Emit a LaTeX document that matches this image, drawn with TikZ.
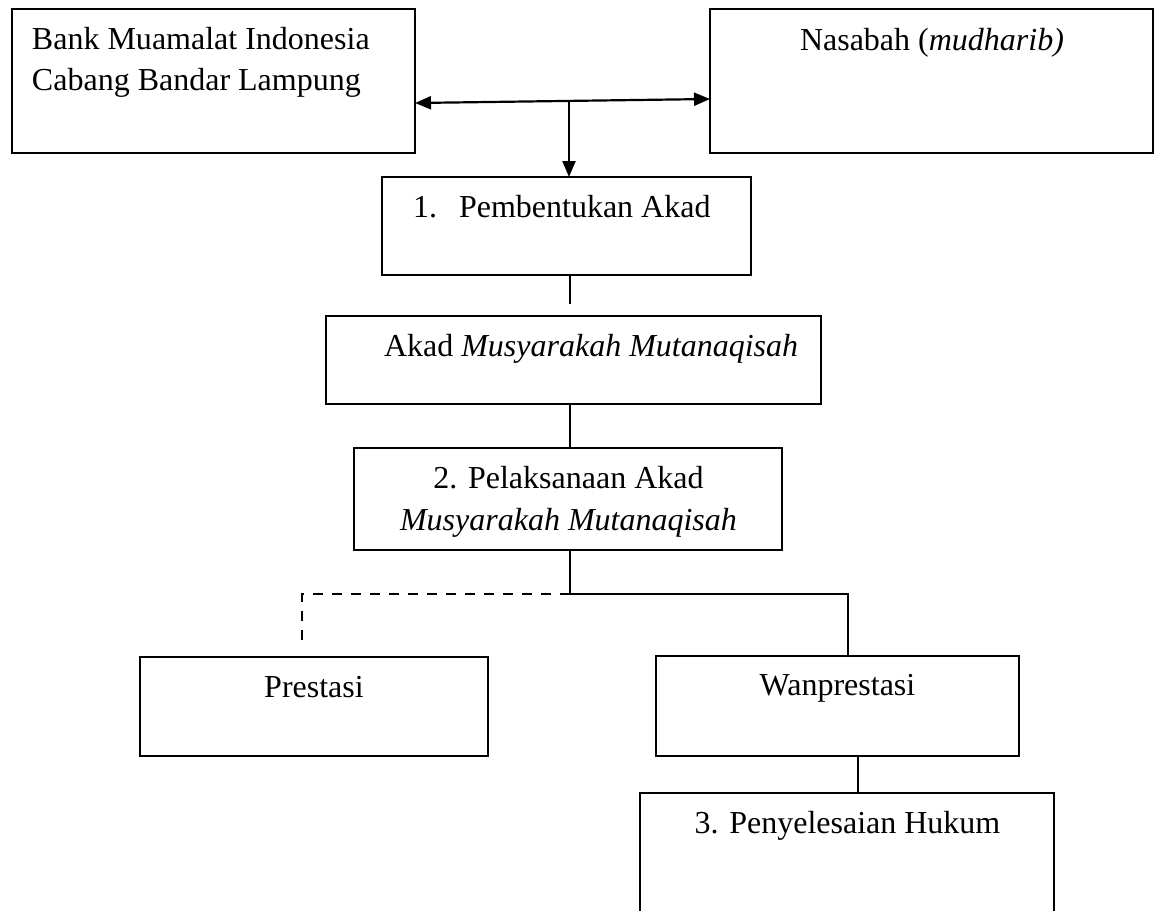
\documentclass[tikz,border=0pt]{standalone}
\usepackage{fontspec}
\setmainfont{Liberation Serif}
\usetikzlibrary{arrows.meta}
\begin{document}
\begin{tikzpicture}[x=0.5pt,y=-0.5pt,
  box/.style={draw, line width=0.9pt, rectangle, inner sep=0pt, outer sep=0pt},
  txt/.style={inner sep=0pt, outer sep=0pt, font=\fontsize{16pt}{20.5pt}\selectfont},
  conn/.style={line width=0.9pt},
  arr/.style={line width=1.1pt, -{Triangle[length=8pt,width=6.5pt]}},
  darr/.style={line width=1.1pt, {Triangle[length=8pt,width=6.5pt]}-{Triangle[length=8pt,width=6.5pt]}},
  dashline/.style={line width=0.9pt, dash pattern=on 5pt off 4.5pt}]
\clip (0,0) rectangle (1155,910);
\fill[white] (0,0) rectangle (1155,910);

% boxes
\node[box, minimum width=201.5pt, minimum height=72pt] (bank) at (213.5,81) {};
\node[box, minimum width=221.5pt, minimum height=72pt] (nas) at (931.5,81) {};
\node[box, minimum width=184.5pt, minimum height=49pt] (b1) at (566.5,226) {};
\node[box, minimum width=247.5pt, minimum height=44pt] (akad) at (573.5,360) {};
\node[box, minimum width=214pt, minimum height=51pt] (b2) at (568,499) {};
\node[box, minimum width=174pt, minimum height=49.5pt] (pres) at (314,706.5) {};
\node[box, minimum width=181.5pt, minimum height=50pt] (wan) at (837.5,706) {};
\node[box, minimum width=207pt, minimum height=83.5pt] (pen) at (847,876.5) {};

% texts
\node[txt, anchor=base west] (tbank1) at (32,49) {Bank Muamalat Indonesia};
\node[txt, anchor=base west] (tbank2) at (32,90) {Cabang Bandar Lampung};
\node[txt, anchor=base west] (tnas) at (800,50) {Nasabah (\textit{mudharib)}};
\node[txt, anchor=base west] (tb1n) at (413,217) {1.};
\node[txt, anchor=base west] (tb1) at (459,217) {Pembentukan Akad};
\node[txt, anchor=base west] (takad) at (384,356) {Akad \textit{Musyarakah Mutanaqisah}};
\node[txt, anchor=base] (tb2a) at (568.5,488) {2. Pelaksanaan Akad};
\node[txt, anchor=base] (tb2b) at (568.5,530) {\textit{Musyarakah Mutanaqisah}};
\node[txt, anchor=base] (tpres) at (314,697) {Prestasi};
\node[txt, anchor=base] (twan) at (837.5,695) {Wanprestasi};
\node[txt, anchor=base] (tpen) at (847.5,833) {3. Penyelesaian Hukum};

% connectors
\coordinate (j1) at (569,101);
\coordinate (e1) at (570,304);
\coordinate (j2) at (570,594);
\coordinate (d1) at (302,642);
\coordinate (cx) at (858,0);

\draw[darr] ([yshift=-11pt]bank.east) -- ([yshift=-9pt]nas.west);
\draw[arr] (j1) -- (j1 |- b1.north);
\draw[conn] (b1.south -| e1) -- (e1);
\draw[conn] (akad.south -| e1) -- (b2.north -| e1);
\draw[conn] (b2.south -| j2) -- (j2);
\draw[dashline] (j2) -| (d1);
\draw[conn] (j2) -| ([xshift=5.25pt]wan.north);
\draw[conn] (wan.south -| cx) -- (pen.north -| cx);
\end{tikzpicture}
\end{document}
